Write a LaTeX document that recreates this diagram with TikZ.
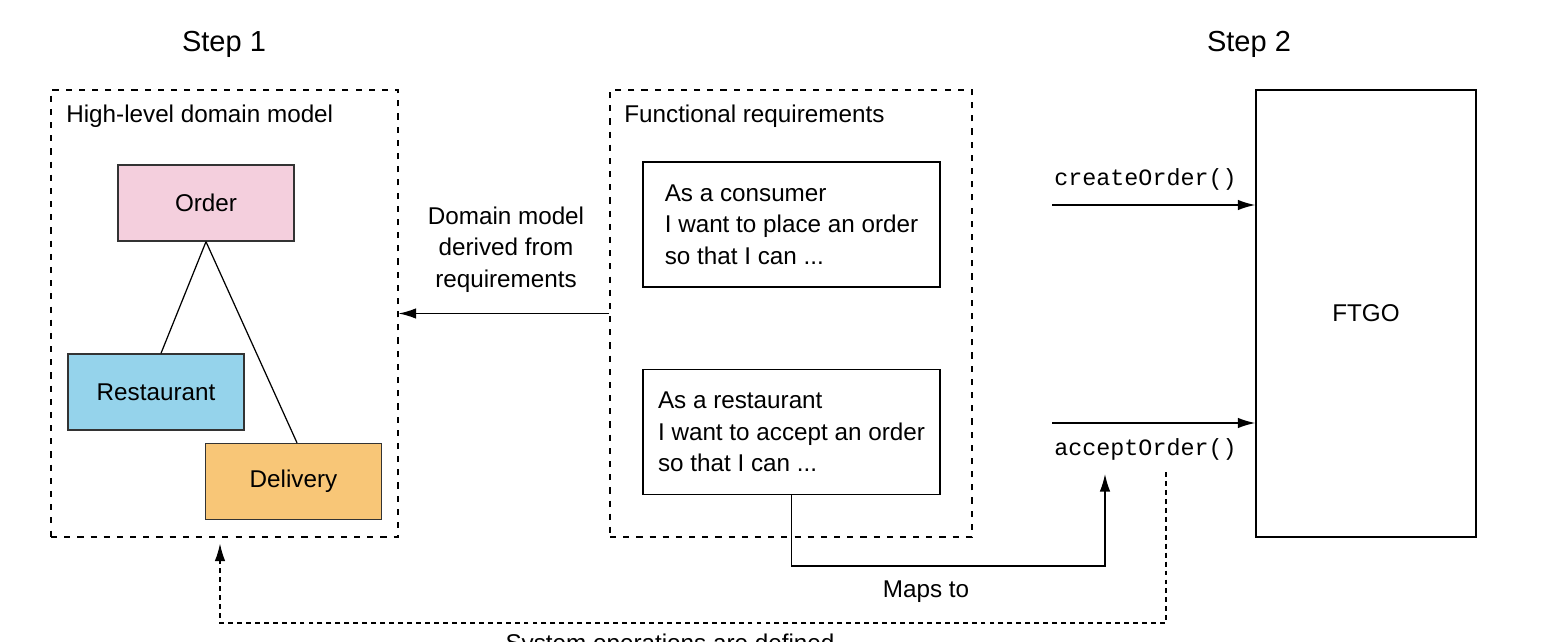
\documentclass[tikz,border=0pt]{standalone}
\usepackage{fontspec}
\setmainfont{Liberation Sans}
\setmonofont{Liberation Mono}
\usetikzlibrary{arrows.meta}

\begin{document}
\begin{tikzpicture}[x=0.02cm,y=-0.02cm,
  font=\fontsize{13.8}{17.9}\selectfont,
  every node/.style={inner sep=0pt},
  group/.style={draw,line width=.7pt,dash pattern=on 3.5pt off 4pt,
    minimum width=#1,minimum height=8.94cm},
  entity/.style={draw=black!80,line width=.8pt,
    minimum width=3.52cm,minimum height=1.52cm},
  story/.style={draw,line width=.8pt,minimum width=5.94cm,
    minimum height=2.5cm,align=left},
  flow/.style={line width=.8pt,-{Latex[length=10pt,width=6pt]}},
  oplabel/.style={anchor=base west,font=\fontsize{13.3}{16}\selectfont\ttfamily},
  steplabel/.style={anchor=base,font=\fontsize{16.5}{20}\selectfont}]
 \definecolor{c1}{RGB}{244,207,221}
 \definecolor{c2}{RGB}{149,211,235}
 \definecolor{c3}{RGB}{248,198,119}
 \useasboundingbox (0,0) rectangle (1560,642);

 \node[steplabel] (step1) at (224,52) {Step 1};
 \node[steplabel] (step2) at (1249,52) {Step 2};

 \node[group=6.94cm] (model) at (224.5,313.5) {};
 \node[group=7.24cm] (reqs) at (791,313.5) {};
 \node[draw,line width=.8pt,minimum width=4.4cm,
   minimum height=8.94cm] (ftgo) at (1366,313.5) {FTGO};
 \node[anchor=base west] (modeltitle) at (66,123) {High-level domain model};
 \node[anchor=base west] (reqstitle) at (624,123) {Functional requirements};

 \foreach \nm/\col/\xp/\yp in {
   Order/c1/206/203, Restaurant/c2/156/392,
   Delivery/c3/293.5/481.5
 } {
   \node[entity,fill=\col] (\nm) at (\xp,\yp) {\nm};
 }
 \draw[line width=.7pt] (Order.south) -- ([xshift=.1cm]Restaurant.north)
   (Order.south) -- ([xshift=.07cm]Delivery.north);

 \node[story] (consumer) at (791.5,224.5)
   {As a consumer\\I want to place an order\\so that I can ...};
 \node[story] (restaurant) at (791.5,432)
   {As a restaurant\\I want to accept an order\\so that I can ...};

 \draw[flow] (reqs.west) -- (model.east);
 \node[align=center] (derived) at (506,249.5)
   {Domain model\\derived from\\requirements};

 \coordinate (create) at (1052,205);
 \coordinate (accept) at (1052,423);
 \draw[flow] (create) -- (create -| ftgo.west);
 \draw[flow] (accept) -- (accept -| ftgo.west);
 \node[oplabel] (createlabel) at (1054,186) {createOrder()};
 \node[oplabel] (acceptlabel) at (1054,455) {acceptOrder()};

 \coordinate (mapscorner) at (1105,566);
 \coordinate (mapsend) at (1105,474);
 \draw[flow] (restaurant.south) |- (mapscorner) -- (mapsend);
 \node (mapslabel) at (926,592) {Maps to};

 \coordinate (sysstart) at (1166,472);
 \coordinate (syscorner) at (220,623);
 \draw[flow,dash pattern=on 2.8pt off 2.3pt,shorten >=3.4pt]
   (sysstart) |- (syscorner) -- (syscorner |- model.south);
 \node[anchor=base] (syslabel) at (670,651) {System operations are defined};
\end{tikzpicture}
\end{document}
